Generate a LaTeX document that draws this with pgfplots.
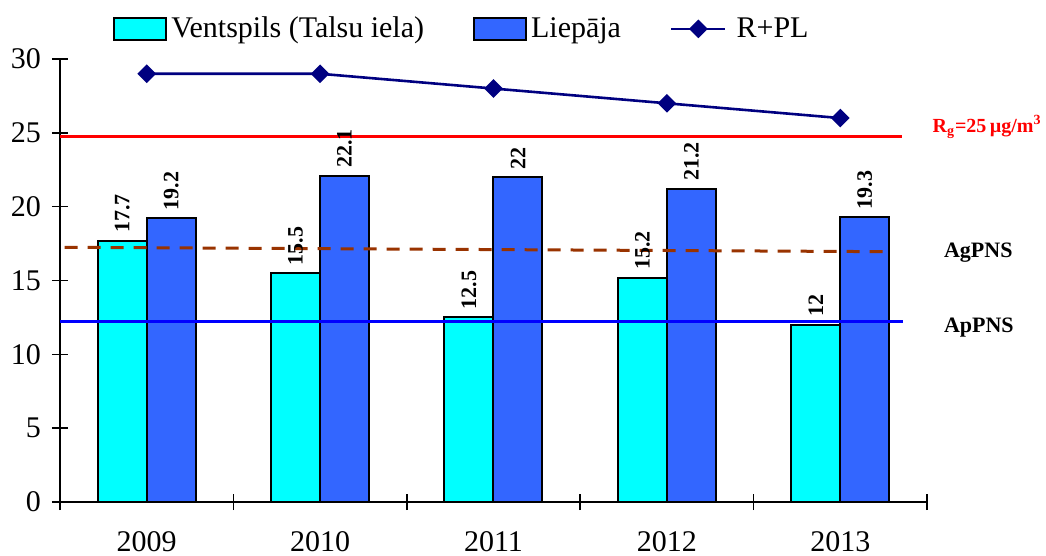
\documentclass[border=0pt]{standalone}
\usepackage{fontspec}
\setmainfont{Liberation Serif}
\usepackage{pgfplots}
\pgfplotsset{compat=1.18}
\definecolor{cyanbar}{RGB}{0,255,255}
\definecolor{bluebar}{RGB}{51,102,255}
\definecolor{navyline}{RGB}{0,0,128}
\definecolor{brownline}{RGB}{153,51,0}
\definecolor{redline}{RGB}{255,0,0}
\definecolor{blueline}{RGB}{0,0,255}
\newcommand\tfont{\fontsize{15bp}{18bp}\selectfont}
\newcommand\lfont{\bfseries\fontsize{11bp}{13bp}\selectfont}
\pgfplotsset{
  barleg/.style={legend image code/.code={\draw[##1, line width=1bp] (0bp,-5.5bp) rectangle (26bp,5.5bp);}},
  lineleg/.style={legend image code/.code={\draw[mark repeat=2, mark phase=2, ##1] plot coordinates {(0bp,0bp) (13.5bp,0bp) (27bp,0bp)}; \path (30bp,0bp);}},
  barlabels/.style={nodes near coords, every node near coord/.append style={xshift=#1, rotate=90, anchor=west, font=\lfont, inner sep=3.5bp, text=black}},
}
\begin{document}
\begin{tikzpicture}
\path[use as bounding box] (-30bp,-27bp) rectangle (493bp,251bp);
\begin{axis}[
  at={(0,0)}, anchor=south west,
  scale only axis, width=433.5bp, height=221.5bp,
  xmin=-0.5, xmax=4.5, ymin=0, ymax=30,
  axis lines=left, axis line style={-, line width=1bp},
  clip=false,
  xtick={-0.5,0.5,1.5,2.5,3.5,4.5}, x tick label as interval,
  xticklabels={2009,2010,2011,2012,2013},
  ytick={0,5,10,15,20,25,30},
  tick align=center, major tick length=8bp,
  tick style={black, line width=0.8bp},
  ticklabel style={font=\tfont},
  /pgf/number format/assume math mode=true,
  yticklabel style={xshift=-2bp},
  xticklabel style={yshift=-7.5bp},
  legend columns=3,
  legend style={draw=none, fill=none, at={(0.061,1.068)}, anchor=west,
    inner sep=0pt, font=\tfont,
    /tikz/every even column/.append style={column sep=22.5bp}},
]
\addplot[ybar, bar width=24.5bp, bar shift=-12.25bp, fill=cyanbar, draw=black, line width=1bp, barlabels=-12.25bp, barleg]
  coordinates {(0,17.7) (1,15.5) (2,12.5) (3,15.2) (4,12)};
\addlegendentry{Ventspils (Talsu iela)}
\addplot[ybar, bar width=24.5bp, bar shift=12.25bp, fill=bluebar, draw=black, line width=1bp, barlabels=12.25bp, barleg]
  coordinates {(0,19.2) (1,22.1) (2,22) (3,21.2) (4,19.3)};
\addlegendentry{Liepāja}
\addplot[navyline, line width=1.3bp, mark=square*, mark size=2.65bp, mark options={fill=navyline, rotate=45}, lineleg]
  coordinates {(0,29) (1,29) (2,28) (3,27) (4,26)};
\addlegendentry{R+PL}
\addplot[forget plot, redline, line width=1.5bp] coordinates {(-0.5,24.75) (4.354,24.75)};
\addplot[forget plot, blueline, line width=1.5bp] coordinates {(-0.5,12.25) (4.36,12.25)};
\addplot[forget plot, brownline, line width=1.5bp, dash pattern=on 6.5bp off 5bp] coordinates {(-0.473,17.25) (4.30,16.95)};
\node[anchor=west, text=redline, font=\bfseries\fontsize{10bp}{12bp}\selectfont, inner sep=0pt] at (axis cs:4.53,25.4) {R\textsubscript{g}=25\,µg/m\textsuperscript{3}};
\node[anchor=west, font=\lfont, inner sep=0pt] at (axis cs:4.596,16.86) {AgPNS};
\node[anchor=west, font=\lfont, inner sep=0pt] at (axis cs:4.596,11.78) {ApPNS};
\end{axis}
\end{tikzpicture}
\end{document}
